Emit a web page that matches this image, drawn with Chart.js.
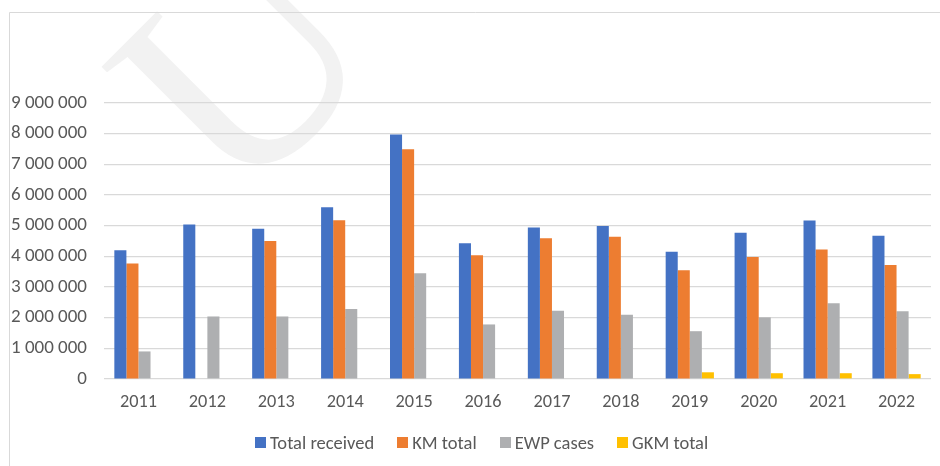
<!DOCTYPE html>
<html><head><meta charset="utf-8">
<script src="https://cdn.jsdelivr.net/npm/chart.js@4.4.0/dist/chart.umd.min.js"></script>
<style>
html,body{margin:0;padding:0;background:#fff;}
#wrap{width:940px;height:466px;position:relative;overflow:hidden;}
#legend{position:absolute;left:255px;top:431px;height:22px;display:flex;align-items:center;
  font-family:Carlito,Calibri,Lato,sans-serif;font-size:18.5px;color:#595959;white-space:nowrap;}
.item{display:flex;align-items:center;margin-right:23px;}
.sw{width:11px;height:11px;margin-right:4px;display:inline-block;}
</style>
</head><body><div id="wrap"><canvas id="c" width="940" height="466"></canvas><div id="legend"></div></div>
<script>
const years = ['2011','2012','2013','2014','2015','2016','2017','2018','2019','2020','2021','2022'];
const totalReceived = [4200000,5040000,4900000,5600000,7970000,4430000,4940000,4990000,4150000,4770000,5170000,4670000];
const kmTotal = [3770000,null,4500000,5180000,7490000,4040000,4590000,4640000,3550000,3980000,4220000,3720000];
const ewpCases = [900000,2040000,2040000,2280000,3450000,1780000,2230000,2100000,1560000,2010000,2470000,2210000];
const gkmTotal = [null,null,null,null,null,null,null,null,220000,190000,190000,160000];
const seriesNames = ['Total received','KM total','EWP cases','GKM total'];
const seriesColors = ['#4472C4','#ED7D31','#AEAFB1','#FFC000'];
const yTicks = [0,1000000,2000000,3000000,4000000,5000000,6000000,7000000,8000000,9000000];
const watermarkText = 'U';

const FONT = 'Carlito, Calibri, Lato, sans-serif';
const TXT = '#595959';
const fmt = v => String(v).replace(/\B(?=(\d{3})+(?!\d))/g, ' ');

const bgPlugin = {
  id: 'bg',
  beforeDraw(chart) {
    const ctx = chart.ctx;
    ctx.save();
    ctx.fillStyle = '#fff';
    ctx.fillRect(0, 0, chart.width, chart.height);
    // watermark
    ctx.save();
    ctx.translate(236, 210);
    ctx.rotate(-Math.PI / 4);
    ctx.fillStyle = '#f2f2f2';
    ctx.font = '300px "Liberation Serif", serif';
    ctx.textAlign = 'left';
    ctx.textBaseline = 'alphabetic';
    ctx.fillText(watermarkText, 0, 0);
    ctx.restore();
    // border
    ctx.strokeStyle = '#d9d9d9';
    ctx.lineWidth = 1;
    ctx.beginPath();
    ctx.moveTo(9.5, 470);
    ctx.lineTo(9.5, 12.5);
    ctx.lineTo(945, 12.5);
    ctx.stroke();
    ctx.restore();
  }
};

const datasets = [totalReceived, kmTotal, ewpCases, gkmTotal].map((d, i) => ({
  label: seriesNames[i], data: d, backgroundColor: seriesColors[i]
}));

new Chart(document.getElementById('c'), {
  type: 'bar',
  data: { labels: years, datasets },
  options: {
    responsive: false,
    animation: false,
    layout: { padding: { top: 103, right: 9, bottom: 41, left: 0 } },
    datasets: { bar: { categoryPercentage: 0.7, barPercentage: 1.0 } },
    plugins: {
      legend: { display: false },
      tooltip: { enabled: false }
    },
    scales: {
      x: {
        grid: { display: false, drawTicks: false },
        border: { display: false },
        ticks: { color: TXT, font: { family: FONT, size: 18.3 }, padding: 12 }
      },
      y: {
        min: 0, max: 9000000,
        afterBuildTicks(scale) { scale.ticks = yTicks.map(v => ({ value: v })); },
        afterFit(scale) { scale.width = 104; },
        grid: { color: '#d9d9d9', lineWidth: 1.3, drawTicks: false },
        border: { display: false },
        ticks: {
          color: TXT, font: { family: FONT, size: 19 }, padding: 17,
          callback: v => fmt(v)
        }
      }
    }
  },
  plugins: [bgPlugin]
});

const leg = document.getElementById('legend');
seriesNames.forEach((n, i) => {
  const it = document.createElement('div'); it.className = 'item';
  const sw = document.createElement('span'); sw.className = 'sw'; sw.style.background = seriesColors[i];
  const tx = document.createElement('span'); tx.textContent = n;
  it.appendChild(sw); it.appendChild(tx); leg.appendChild(it);
});
</script>
</body></html>
